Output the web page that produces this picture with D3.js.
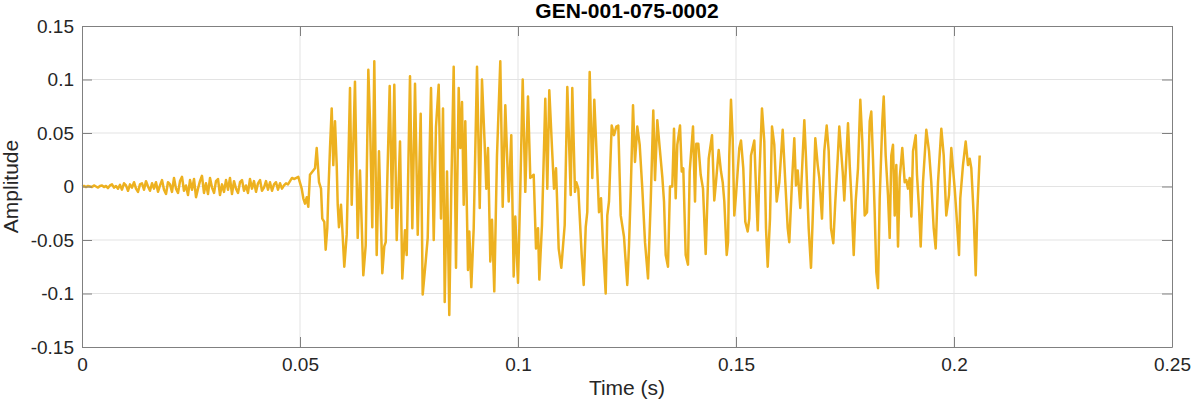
<!DOCTYPE html>
<html>
<head>
<meta charset="utf-8">
<script src="https://cdn.jsdelivr.net/npm/d3@7"></script>
<style>
  html, body { margin: 0; padding: 0; background: #fff; }
  svg { display: block; font-family: "Liberation Sans", Arial, Helvetica, sans-serif; }
</style>
</head>
<body>
<svg id="chart" width="1193" height="404"></svg>
<script>
// ---- data (time in s, amplitude) ----
const chartTitle = "GEN-001-075-0002";
const xLabel = "Time (s)";
const yLabel = "Amplitude";
const xTicks = [0, 0.05, 0.1, 0.15, 0.2, 0.25];
const yTicks = [-0.15, -0.1, -0.05, 0, 0.05, 0.1, 0.15];

// low-level pre-voicing noise
const onsetNoise = [
  [0,0],[0.00046,0.0005],[0.00092,-0.0005],[0.00138,0.0005],[0.00183,0],[0.00229,-0.0005],
  [0.00275,0.001],[0.00321,0],[0.00367,-0.001],[0.00413,0.0005],[0.00459,0.001],[0.00505,-0.0005],
  [0.00550,0.0005],[0.00596,-0.0015],[0.00642,0.001],[0.00688,0.002],[0.00734,-0.001],[0.00780,0.0005],
  [0.00826,-0.002],[0.00872,0.0015],[0.00917,-0.003],[0.00963,0.003],[0.01009,0.001],[0.01055,-0.004],
  [0.01101,0.002],[0.01147,-0.001],[0.01193,0.004],[0.01239,-0.002],[0.01284,-0.005],[0.01330,0.002],
  [0.01376,0.003],[0.01422,-0.003],[0.01468,0.005],[0.01514,0],[0.01560,-0.004],[0.01606,0.003],
  [0.01651,-0.002],[0.01697,0.004],[0.01743,-0.005],[0.01789,0.001],[0.01835,0.006],[0.01881,-0.003],
  [0.01927,-0.007],[0.01972,0.004],[0.02018,0.002],[0.02064,-0.005],[0.02110,0.008],[0.02156,-0.002],
  [0.02202,-0.006],[0.02248,0.005],[0.02294,0.009],[0.02339,-0.004],[0.02385,0.001],[0.02431,-0.008],
  [0.02477,0.006],[0.02523,-0.003],[0.02569,0.007],[0.02615,-0.010],[0.02661,-0.002],[0.02706,0.005],
  [0.02752,0.010],[0.02798,-0.006],[0.02844,0.003],[0.02890,-0.007],[0.02936,0.008],[0.02982,-0.001],
  [0.03028,-0.006],[0.03073,0.005],[0.03119,0.007],[0.03165,-0.008],[0.03211,0.002],[0.03257,-0.005],
  [0.03303,0.006],[0.03349,-0.003],[0.03394,0.008],[0.03440,-0.007],[0.03486,0.005],[0.03532,-0.002],
  [0.03578,-0.006],[0.03624,0.004],[0.03670,0.006],[0.03716,-0.004],[0.03761,0.001],[0.03807,-0.006],
  [0.03853,0.007],[0.03899,-0.002],[0.03945,0.005],[0.03991,-0.005],[0.04037,0.003],[0.04083,0.006],
  [0.04128,-0.004],[0.04174,-0.001],[0.04220,0.005],[0.04266,-0.003],[0.04312,0.004],[0.04358,-0.004],
  [0.04404,0.002],[0.04450,0.004],[0.04495,-0.003],[0.04541,0.003],[0.04587,-0.002],[0.04633,0.001],
  [0.04679,0.003],[0.04725,0.002],[0.04771,0.005],[0.04817,0.008],[0.04862,0.007],[0.04961,0.009]
];

// voiced segment (peaks / troughs)
const voicedSegment = [
  [0.05039,-0.002],[0.05076,-0.011],[0.05115,-0.016],[0.05154,-0.010],[0.05190,-0.019],[0.05229,0.011],
  [0.05305,0.015],[0.05344,0.017],[0.05383,0.036],[0.05436,0.004],[0.05482,-0.002],[0.05511,-0.030],
  [0.05557,-0.033],[0.05589,-0.059],[0.05626,-0.039],[0.05649,-0.008],[0.05688,0.036],[0.05727,0.073],
  [0.05764,0.020],[0.05803,0.061],[0.05842,0.020],[0.05865,-0.017],[0.05894,-0.038],[0.05940,-0.017],
  [0.05970,-0.039],[0.06016,-0.075],[0.06071,-0.045],[0.06108,0.020],[0.06147,0.092],[0.06186,-0.017],
  [0.06261,0.098],[0.06323,-0.048],[0.06376,0.015],[0.06452,-0.083],[0.06507,-0.055],[0.06567,0.109],
  [0.06606,0.061],[0.06658,-0.038],[0.06704,0.117],[0.06759,-0.064],[0.06812,0.033],[0.06888,-0.081],
  [0.06933,-0.056],[0.06966,-0.052],[0.07057,0.094],[0.07110,-0.020],[0.07163,0.095],[0.07218,-0.050],
  [0.07294,0.042],[0.07346,-0.086],[0.07408,-0.041],[0.07447,-0.064],[0.07523,0.103],[0.07576,-0.039],
  [0.07638,0.096],[0.07700,-0.045],[0.07768,0.068],[0.07814,-0.101],[0.07883,-0.070],[0.07929,-0.048],
  [0.08005,0.092],[0.08067,-0.050],[0.08119,0.056],[0.08181,0.095],[0.08234,-0.030],[0.08280,0.073],
  [0.08319,-0.108],[0.08372,0.014],[0.08424,-0.120],[0.08470,-0.002],[0.08525,0.112],[0.08578,-0.076],
  [0.08640,0.092],[0.08677,0.036],[0.08716,0.079],[0.08755,-0.017],[0.08791,0.061],[0.08853,-0.078],
  [0.08883,-0.042],[0.08929,-0.094],[0.08984,-0.039],[0.09060,0.112],[0.09122,-0.020],[0.09174,0.100],
  [0.09236,0.039],[0.09273,-0.002],[0.09312,0.036],[0.09365,-0.070],[0.09404,-0.031],[0.09456,-0.098],
  [0.09518,0.029],[0.09594,0.117],[0.09649,-0.019],[0.09709,0.076],[0.09787,-0.014],[0.09846,0.048],
  [0.09901,-0.084],[0.09938,-0.028],[0.10000,-0.090],[0.10053,-0.002],[0.10108,0.100],[0.10167,-0.005],
  [0.10229,0.084],[0.10282,0.008],[0.10360,0.011],[0.10413,-0.058],[0.10459,-0.039],[0.10489,-0.087],
  [0.10550,-0.036],[0.10626,0.082],[0.10672,-0.002],[0.10718,0.090],[0.10780,0.036],[0.10826,-0.002],
  [0.10872,0.017],[0.10933,-0.058],[0.10993,-0.076],[0.11071,-0.036],[0.11131,0.093],[0.11209,-0.008],
  [0.11245,0.092],[0.11307,-0.005],[0.11337,0.004],[0.11383,-0.002],[0.11461,-0.064],[0.11507,-0.092],
  [0.11553,-0.038],[0.11589,-0.024],[0.11644,0.107],[0.11704,0.008],[0.11750,0.081],[0.11805,0.029],
  [0.11858,-0.024],[0.11904,-0.011],[0.11950,-0.055],[0.12011,-0.100],[0.12048,-0.027],[0.12087,-0.014],
  [0.12149,0.057],[0.12202,0.048],[0.12255,0.056],[0.12300,0.057],[0.12356,-0.027],[0.12431,-0.047],
  [0.12454,-0.061],[0.12507,-0.092],[0.12546,-0.055],[0.12585,-0.005],[0.12638,0.076],[0.12683,0.023],
  [0.12736,0.056],[0.12791,0.039],[0.12851,-0.002],[0.12913,-0.052],[0.12982,-0.086],[0.13044,-0.014],
  [0.13103,0.071],[0.13142,0.006],[0.13195,0.062],[0.13250,0.036],[0.13310,0.009],[0.13349,-0.014],
  [0.13388,-0.064],[0.13440,-0.075],[0.13486,0.000],[0.13539,0.000],[0.13578,0.054],[0.13617,-0.011],
  [0.13654,0.039],[0.13716,0.057],[0.13755,0.014],[0.13791,0.017],[0.13846,-0.064],[0.13899,-0.073],
  [0.13938,0.014],[0.14014,0.056],[0.14060,-0.014],[0.14089,0.040],[0.14135,0.040],[0.14190,0.011],
  [0.14243,-0.002],[0.14305,-0.063],[0.14374,0.026],[0.14450,0.048],[0.14502,-0.013],[0.14541,0.004],
  [0.14603,0.034],[0.14656,0.014],[0.14695,0.004],[0.14732,-0.014],[0.14787,-0.064],[0.14817,-0.052],
  [0.14846,0.029],[0.14885,0.081],[0.14924,0.045],[0.14961,-0.027],[0.15000,-0.008],[0.15076,0.036],
  [0.15115,0.043],[0.15167,0.017],[0.15213,-0.033],[0.15268,-0.042],[0.15305,-0.030],[0.15344,0.029],
  [0.15420,0.043],[0.15459,-0.002],[0.15498,-0.041],[0.15534,0.008],[0.15596,0.073],[0.15649,0.042],
  [0.15688,-0.039],[0.15727,-0.075],[0.15780,-0.030],[0.15826,0.056],[0.15878,0.039],[0.15933,-0.014],
  [0.15993,0.004],[0.16071,0.053],[0.16131,0.004],[0.16186,-0.039],[0.16222,-0.052],[0.16284,0.004],
  [0.16337,0.045],[0.16376,0.001],[0.16415,0.015],[0.16475,-0.020],[0.16530,0.029],[0.16567,0.062],
  [0.16606,0.026],[0.16667,-0.039],[0.16720,-0.076],[0.16759,-0.030],[0.16819,0.045],[0.16874,0.020],
  [0.16911,0.008],[0.16972,-0.030],[0.17025,0.033],[0.17080,0.057],[0.17126,0.033],[0.17179,-0.039],
  [0.17232,-0.053],[0.17278,-0.014],[0.17333,0.026],[0.17369,0.056],[0.17447,0.014],[0.17484,-0.013],
  [0.17569,0.059],[0.17608,0.020],[0.17644,-0.008],[0.17700,-0.064],[0.17745,-0.014],[0.17798,0.017],
  [0.17851,0.081],[0.17897,0.042],[0.17952,-0.027],[0.18005,-0.024],[0.18067,0.061],[0.18103,0.070],
  [0.18142,0.026],[0.18181,-0.024],[0.18218,-0.080],[0.18257,-0.095],[0.18296,-0.011],[0.18356,0.061],
  [0.18388,0.084],[0.18433,0.029],[0.18486,-0.008],[0.18525,-0.048],[0.18562,0.029],[0.18601,0.039],
  [0.18640,-0.027],[0.18677,0.020],[0.18716,-0.056],[0.18755,0.008],[0.18814,0.036],[0.18869,0.004],
  [0.18906,0.006],[0.18945,-0.002],[0.18984,0.008],[0.19021,-0.028],[0.19060,0.033],[0.19122,0.048],
  [0.19151,0.011],[0.19197,-0.020],[0.19236,-0.056],[0.19289,0.004],[0.19365,0.053],[0.19427,0.033],
  [0.19479,0.004],[0.19534,-0.039],[0.19580,-0.058],[0.19633,0.004],[0.19709,0.054],[0.19764,0.029],
  [0.19823,-0.027],[0.19885,-0.008],[0.19938,0.036],[0.20016,-0.002],[0.20053,-0.024],[0.20115,-0.064],
  [0.20144,-0.011],[0.20206,0.020],[0.20268,0.042],[0.20321,0.020],[0.20360,0.026],[0.20397,0.017],
  [0.20452,-0.027],[0.20498,-0.083],[0.20534,-0.024],[0.20589,0.029]
];

// ---- drawing ----
const W = 1193, H = 404;
const m = { left: 82, right: 1172, top: 26, bottom: 347 };
const textColor = "#262626";
const lineColor = "#EDB120";
const fontStack = '"Liberation Sans", Arial, Helvetica, sans-serif';

const svg = d3.select("#chart");
svg.append("rect").attr("width", W).attr("height", H).attr("fill", "#fff");

const x = d3.scaleLinear().domain([0, 0.25]).range([m.left, m.right]);
const y = d3.scaleLinear().domain([-0.15, 0.15]).range([m.bottom, m.top]);
const fmt = d => String(+d.toFixed(2));

// grid
const grid = svg.append("g");
grid.selectAll("line.gx").data(xTicks.slice(1, -1)).join("line")
  .attr("x1", d => x(d)).attr("x2", d => x(d))
  .attr("y1", m.top).attr("y2", m.bottom)
  .attr("stroke", "#e3e3e3").attr("stroke-width", 1);
grid.selectAll("line.gy").data(yTicks.slice(1, -1)).join("line")
  .attr("y1", d => y(d)).attr("y2", d => y(d))
  .attr("x1", m.left).attr("x2", m.right)
  .attr("stroke", "#e3e3e3").attr("stroke-width", 1);

// waveform
const samples = onsetNoise.concat(voicedSegment);
const line = d3.line().x(d => x(d[0])).y(d => y(d[1]));
svg.append("path").datum(samples)
  .attr("d", line)
  .attr("fill", "none")
  .attr("stroke", lineColor)
  .attr("stroke-width", 2.5)
  .attr("stroke-linejoin", "round");

// axes
function styleAxis(g) {
  g.select(".domain").attr("stroke", "#808080").attr("stroke-width", 1);
  g.selectAll(".tick line").attr("stroke", "#808080");
  g.selectAll(".tick text").attr("fill", textColor).attr("font-size", 19)
    .attr("font-family", fontStack);
}
svg.append("g").attr("transform", `translate(0,${m.bottom})`)
  .call(d3.axisBottom(x).tickValues(xTicks).tickFormat(fmt).tickSize(-10).tickSizeOuter(0).tickPadding(11))
  .call(styleAxis);
svg.append("g").attr("transform", `translate(0,${m.top})`)
  .call(d3.axisTop(x).tickValues(xTicks).tickFormat("").tickSize(-10).tickSizeOuter(0))
  .call(styleAxis);
svg.append("g").attr("transform", `translate(${m.left},0)`)
  .call(d3.axisLeft(y).tickValues(yTicks).tickFormat(fmt).tickSize(-10).tickSizeOuter(0).tickPadding(8))
  .call(styleAxis);
svg.append("g").attr("transform", `translate(${m.right},0)`)
  .call(d3.axisRight(y).tickValues(yTicks).tickFormat("").tickSize(-10).tickSizeOuter(0))
  .call(styleAxis);

// title & labels
svg.append("text").attr("x", (m.left + m.right) / 2).attr("y", 18)
  .attr("text-anchor", "middle").attr("font-weight", "bold").attr("font-size", 21)
  .attr("font-family", fontStack).attr("fill", "#000").text(chartTitle);
svg.append("text").attr("x", (m.left + m.right) / 2).attr("y", 395)
  .attr("text-anchor", "middle").attr("font-size", 21)
  .attr("font-family", fontStack).attr("fill", textColor).text(xLabel);
svg.append("text").attr("transform", `translate(18,${(m.top + m.bottom) / 2}) rotate(-90)`)
  .attr("text-anchor", "middle").attr("font-size", 21)
  .attr("font-family", fontStack).attr("fill", textColor).text(yLabel);
</script>
</body>
</html>
